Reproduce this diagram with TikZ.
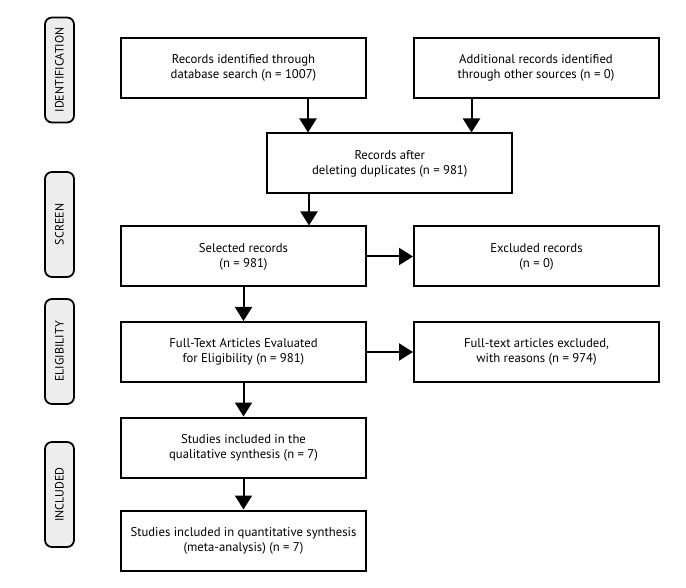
\documentclass[tikz,border=0pt]{standalone}
\usepackage{fontspec}
\setmainfont{PT Sans}
\usepackage{tikz}
\usetikzlibrary{arrows.meta,positioning,calc}
\definecolor{stagegray}{HTML}{EDEDED}

\tikzset{
  box/.style={draw, line width=2pt, minimum width=245pt, minimum height=60pt,
    align=center, inner sep=0pt, font=\fontsize{12.7}{15}\selectfont},
  stage/.style={draw, line width=1.8pt, rounded corners=7pt, fill=stagegray,
    rotate=90, minimum width=105pt, minimum height=29pt, inner sep=0pt,
    font=\fontsize{12}{14}\selectfont},
  arr/.style={line width=2pt, -{Triangle[width=17pt,length=14pt]}}
}

\begin{document}
\begin{tikzpicture}[node distance=95.5pt,on grid]
\useasboundingbox (0,0) rectangle (686pt,-588pt);
% stages
\node[stage] (s_id) at (59.5pt,-70pt) {IDENTIFICATION};
\node[stage] (s_sc) at (59.5pt,-224.5pt) {SCREEN};
\node[stage] (s_el) at (59.5pt,-351.5pt) {ELIGIBILITY};
\node[stage] (s_in) at (59.5pt,-494.5pt) {INCLUDED};
% boxes
\node[box] (b_db) at (243.5pt,-68pt) {Records identified through\\database search (n = 1007)};
\node[box] (b_other) [right=292.5pt of b_db] {Additional records identified\\through other sources (n = 0)};
\node[box] (b_dup) at ($(b_db)!0.5!(b_other)+(0,-95.5pt)$) {Records after\\deleting duplicates (n = 981)};
\node[box] (b_sel) [below=188.5pt of b_db] {Selected records\\(n = 981)};
\node[box] (b_exc) [right=293pt of b_sel] {Excluded records\\(n = 0)};
\node[box] (b_full) [below=of b_sel] {Full-Text Articles Evaluated\\for Eligibility (n = 981)};
\node[box] (b_fexc) [right=293pt of b_full] {Full-text articles excluded,\\with reasons (n = 974)};
\node[box] (b_qual) [below=of b_full] {Studies included in the\\qualitative synthesis (n = 7)};
\node[box] (b_quant) [below=93pt of b_qual] {Studies included in quantitative synthesis\\(meta-analysis) (n = 7)};
% arrows
\draw[arr] ([xshift=-59pt]b_db.south east) -- ([xshift=-59pt]b_db.south east |- b_dup.north);
\draw[arr] ([xshift=59pt]b_other.south west) -- ([xshift=59pt]b_other.south west |- b_dup.north);
\draw[arr] ([xshift=-58pt]b_db.south east |- b_dup.south) -- ([xshift=-58pt]b_sel.north east);
\draw[arr] (b_sel) -- (b_exc);
\draw[arr] (b_sel) -- (b_full);
\draw[arr] (b_full) -- (b_fexc);
\draw[arr] (b_full) -- (b_qual);
\draw[arr] (b_qual) -- (b_quant);
\end{tikzpicture}
\end{document}
